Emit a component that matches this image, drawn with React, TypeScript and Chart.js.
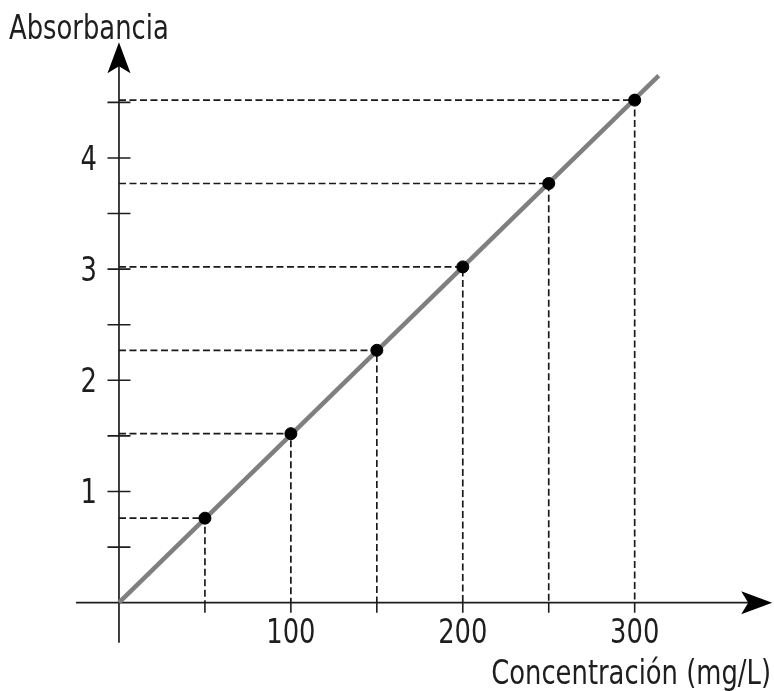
import React, { useEffect, useRef } from "react";
import Chart from "chart.js/auto";

const concentrations = [50, 100, 150, 200, 250, 300];
const absorbances = [0.76, 1.52, 2.27, 3.02, 3.77, 4.52];
const fitLine = [
  { x: 0, y: 0 },
  { x: 314, y: 4.74 },
];
const xTicks = [50, 100, 150, 200, 250, 300];
const xTickLabels = ["100", "200", "300"];
const xLabelValues = [100, 200, 300];
const yTicks = [0.5, 1, 1.5, 2, 2.5, 3, 3.5, 4, 4.5];
const yTickLabels = ["1", "2", "3", "4"];
const yLabelValues = [1, 2, 3, 4];
const xTitle = "Concentración (mg/L)";
const yTitle = "Absorbancia";

const FONT = '33px "Liberation Sans Narrow", "DejaVu Sans Condensed", sans-serif';
const INK = "#1e1e1e";
const SQUEEZE = 0.87;

function squeezedText(ctx: CanvasRenderingContext2D, text: string, x: number, y: number, align: CanvasTextAlign) {
  ctx.save();
  ctx.translate(x, y);
  ctx.scale(SQUEEZE, 1);
  ctx.textAlign = align;
  ctx.fillText(text, 0, 0);
  ctx.restore();
}

const axesPlugin = {
  id: "axesPlugin",
  beforeDatasetsDraw(chart: any) {
    const ctx = chart.ctx;
    const xs = chart.scales.x;
    const ys = chart.scales.y;
    const x0 = xs.getPixelForValue(0);
    const y0 = ys.getPixelForValue(0);
    const left = chart.chartArea.left;
    const right = chart.chartArea.right;
    const top = chart.chartArea.top;
    const bottom = chart.chartArea.bottom;
    ctx.save();
    ctx.strokeStyle = INK;
    ctx.fillStyle = INK;
    ctx.lineWidth = 1.7;
    ctx.beginPath();
    ctx.moveTo(left, y0);
    ctx.lineTo(right - 20, y0);
    ctx.moveTo(x0, bottom);
    ctx.lineTo(x0, top + 20);
    ctx.stroke();
    ctx.fillStyle = "#000";
    ctx.beginPath();
    ctx.moveTo(right, y0);
    ctx.lineTo(right - 31, y0 - 11.5);
    ctx.lineTo(right - 24, y0);
    ctx.lineTo(right - 31, y0 + 11.5);
    ctx.closePath();
    ctx.fill();
    ctx.beginPath();
    ctx.moveTo(x0, top);
    ctx.lineTo(x0 - 11.5, top + 31);
    ctx.lineTo(x0, top + 24);
    ctx.lineTo(x0 + 11.5, top + 31);
    ctx.closePath();
    ctx.fill();
    ctx.lineWidth = 1.6;
    ctx.beginPath();
    xTicks.forEach((v) => {
      const px = xs.getPixelForValue(v);
      ctx.moveTo(px, y0);
      ctx.lineTo(px, y0 + 10);
    });
    yTicks.forEach((v) => {
      const py = ys.getPixelForValue(v);
      ctx.moveTo(x0 - 11.5, py);
      ctx.lineTo(x0 + 11.5, py);
    });
    ctx.stroke();
    ctx.fillStyle = INK;
    ctx.font = FONT;
    ctx.textBaseline = "alphabetic";
    xLabelValues.forEach((v, i) => {
      squeezedText(ctx, xTickLabels[i], xs.getPixelForValue(v), y0 + 40, "center");
    });
    yLabelValues.forEach((v, i) => {
      squeezedText(ctx, yTickLabels[i], x0 - 22, ys.getPixelForValue(v) + 12, "right");
    });
    squeezedText(ctx, xTitle, 771, 684, "right");
    squeezedText(ctx, yTitle, 9, 39, "left");
    ctx.restore();
  },
};

export default function App() {
  const canvasRef = useRef<HTMLCanvasElement | null>(null);
  useEffect(() => {
    if (!canvasRef.current) return;
    const dropDatasets = concentrations.map((c, i) => ({
      type: "line" as const,
      data: [
        { x: 0, y: absorbances[i] },
        { x: c, y: absorbances[i] },
        { x: c, y: 0 },
      ],
      borderColor: "#1a1a1a",
      borderWidth: 1.7,
      borderDash: [7, 3.5],
      pointRadius: 0,
      fill: false,
      tension: 0,
    }));
    const chart = new Chart(canvasRef.current, {
      type: "scatter",
      data: {
        datasets: [
          {
            type: "scatter" as const,
            data: concentrations.map((c, i) => ({ x: c, y: absorbances[i] })),
            backgroundColor: "#000",
            borderColor: "#000",
            pointRadius: 6,
            pointHoverRadius: 6,
          },
          {
            type: "line" as const,
            data: fitLine,
            borderColor: "#7f7f7f",
            borderWidth: 4.5,
            pointRadius: 0,
            fill: false,
          },
          ...dropDatasets,
        ] as any,
      },
      options: {
        animation: false,
        responsive: false,
        maintainAspectRatio: false,
        devicePixelRatio: 1,
        layout: { autoPadding: false, padding: { left: 76, right: 1.8, top: 42.3, bottom: 48.3 } },
        plugins: { legend: { display: false }, tooltip: { enabled: false } },
        events: [],
        scales: {
          x: { type: "linear", min: -25, max: 380, display: false },
          y: { type: "linear", min: -0.36, max: 5.04, display: false },
        },
      },
      plugins: [axesPlugin],
    });
    return () => chart.destroy();
  }, []);
  return (
    <div style={{ position: "fixed", left: 0, top: 0, width: 774, height: 691, background: "#fff" }}>
      <canvas ref={canvasRef} width={774} height={691} style={{ display: "block", width: 774, height: 691 }} />
    </div>
  );
}
